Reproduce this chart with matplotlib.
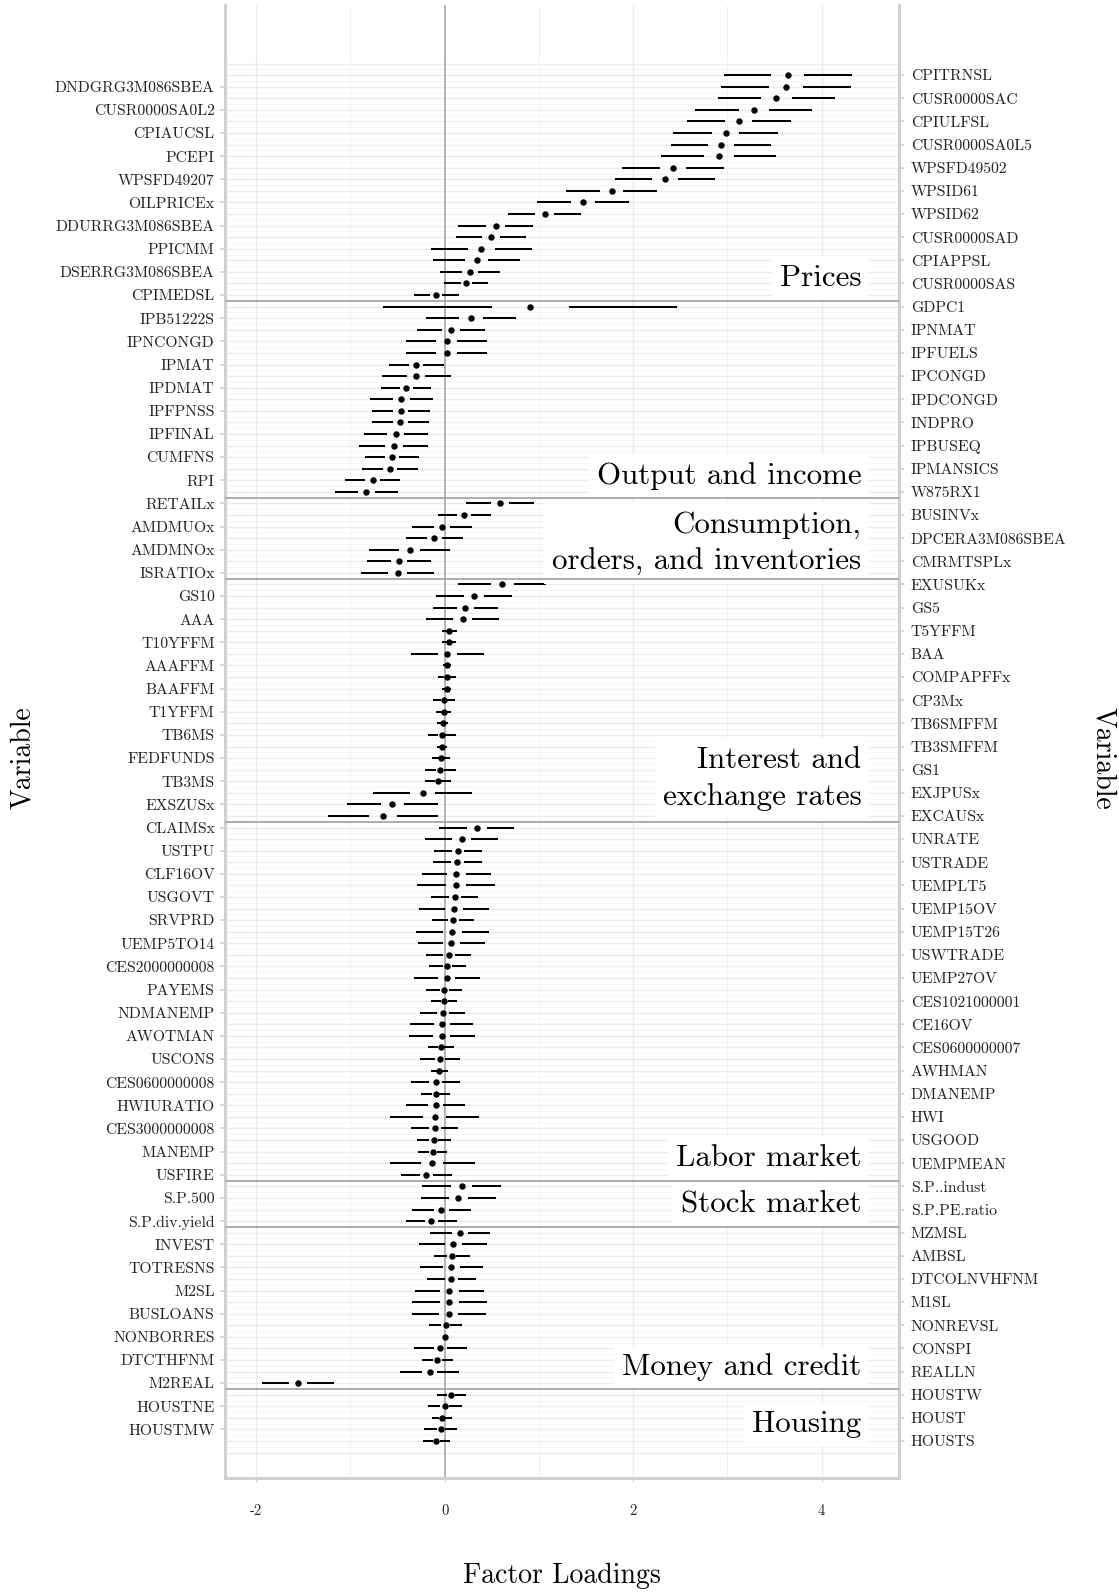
import numpy as np
import matplotlib
matplotlib.use('Agg')
import matplotlib.pyplot as plt

plt.rcParams['font.family'] = 'cmr10'
plt.rcParams['axes.unicode_minus'] = False
plt.rcParams['mathtext.fontset'] = 'cm'

# groups, top to bottom
groups = ['Prices', 'Output and income', 'Consumption,\norders, and inventories',
          'Interest and\nexchange rates', 'Labor market', 'Stock market',
          'Money and credit', 'Housing']
group_sizes = [20, 17, 7, 21, 31, 4, 14, 5]
group_label_rows = [18.55, 35.6, 41.45, 61.75, 94.55, 98.55, 112.65, 117.55]

variables = [
    # prices
    'CPITRNSL', 'DNDGRG3M086SBEA', 'CUSR0000SAC', 'CUSR0000SA0L2', 'CPIULFSL',
    'CPIAUCSL', 'CUSR0000SA0L5', 'PCEPI', 'WPSFD49502', 'WPSFD49207',
    'WPSID61', 'OILPRICEx', 'WPSID62', 'DDURRG3M086SBEA', 'CUSR0000SAD',
    'PPICMM', 'CPIAPPSL', 'DSERRG3M086SBEA', 'CUSR0000SAS', 'CPIMEDSL',
    # output and income
    'GDPC1', 'IPB51222S', 'IPNMAT', 'IPNCONGD', 'IPFUELS', 'IPMAT', 'IPCONGD',
    'IPDMAT', 'IPDCONGD', 'IPFPNSS', 'INDPRO', 'IPFINAL', 'IPBUSEQ', 'CUMFNS',
    'IPMANSICS', 'RPI', 'W875RX1',
    # consumption, orders, inventories
    'RETAILx', 'BUSINVx', 'AMDMUOx', 'DPCERA3M086SBEA', 'AMDMNOx', 'CMRMTSPLx',
    'ISRATIOx',
    # interest and exchange rates
    'EXUSUKx', 'GS10', 'GS5', 'AAA', 'T5YFFM', 'T10YFFM', 'BAA', 'AAAFFM',
    'COMPAPFFx', 'BAAFFM', 'CP3Mx', 'T1YFFM', 'TB6SMFFM', 'TB6MS', 'TB3SMFFM',
    'FEDFUNDS', 'GS1', 'TB3MS', 'EXJPUSx', 'EXSZUSx', 'EXCAUSx',
    # labor market
    'CLAIMSx', 'UNRATE', 'USTPU', 'USTRADE', 'CLF16OV', 'UEMPLT5', 'USGOVT',
    'UEMP15OV', 'SRVPRD', 'UEMP15T26', 'UEMP5TO14', 'USWTRADE', 'CES2000000008',
    'UEMP27OV', 'PAYEMS', 'CES1021000001', 'NDMANEMP', 'CE16OV', 'AWOTMAN',
    'CES0600000007', 'USCONS', 'AWHMAN', 'CES0600000008', 'DMANEMP',
    'HWIURATIO', 'HWI', 'CES3000000008', 'USGOOD', 'MANEMP', 'UEMPMEAN', 'USFIRE',
    # stock market
    'S.P..indust', 'S.P.500', 'S.P.PE.ratio', 'S.P.div.yield',
    # money and credit
    'MZMSL', 'INVEST', 'AMBSL', 'TOTRESNS', 'DTCOLNVHFNM', 'M2SL', 'M1SL',
    'BUSLOANS', 'NONREVSL', 'NONBORRES', 'CONSPI', 'DTCTHFNM', 'REALLN', 'M2REAL',
    # housing
    'HOUSTW', 'HOUSTNE', 'HOUST', 'HOUSTMW', 'HOUSTS',
]

loadings = [
    3.64, 3.62, 3.52, 3.28, 3.12, 2.98, 2.93, 2.91, 2.42, 2.34,
    1.77, 1.47, 1.06, 0.54, 0.49, 0.39, 0.34, 0.27, 0.23, -0.09,
    0.91, 0.28, 0.07, 0.02, 0.02, -0.30, -0.30, -0.41, -0.46, -0.465,
    -0.47, -0.52, -0.54, -0.56, -0.58, -0.765, -0.83,
    0.59, 0.21, -0.03, -0.11, -0.37, -0.485, -0.50,
    0.61, 0.31, 0.22, 0.19, 0.05, 0.045, 0.03, 0.025, 0.02, 0.02,
    -0.01, -0.01, -0.02, -0.03, -0.03, -0.035, -0.045, -0.07, -0.235, -0.555, -0.655,
    0.34, 0.18, 0.14, 0.135, 0.125, 0.12, 0.105, 0.10, 0.09, 0.083,
    0.072, 0.044, 0.03, 0.02, -0.005, -0.005, -0.02, -0.03, -0.03, -0.04,
    -0.05, -0.055, -0.095, -0.097, -0.097, -0.105, -0.105, -0.115, -0.125, -0.13, -0.196,
    0.18, 0.146, -0.034, -0.14,
    0.164, 0.093, 0.076, 0.072, 0.069, 0.051, 0.051, 0.044, 0.009, 0.002,
    -0.045, -0.076, -0.16, -1.557,
    0.069, 0.002, -0.03, -0.04, -0.087,
]

# half width of the interval around each loading
half_widths = [
    0.68, 0.69, 0.62, 0.62, 0.55, 0.56, 0.53, 0.61, 0.54, 0.53,
    0.48, 0.49, 0.39, 0.40, 0.37, 0.54, 0.46, 0.32, 0.235, 0.24,
    1.56, 0.475, 0.36, 0.43, 0.43, 0.29, 0.37, 0.265, 0.335, 0.305,
    0.30, 0.34, 0.365, 0.29, 0.30, 0.29, 0.33,
    0.36, 0.285, 0.315, 0.30, 0.43, 0.34, 0.39,
    0.465, 0.40, 0.345, 0.39, 0.08, 0.07, 0.39, 0.045, 0.095, 0.045,
    0.115, 0.08, 0.06, 0.145, 0.055, 0.095, 0.16, 0.14, 0.525, 0.48, 0.58,
    0.40, 0.385, 0.255, 0.26, 0.37, 0.41, 0.245, 0.375, 0.22, 0.385,
    0.36, 0.24, 0.195, 0.35, 0.19, 0.14, 0.24, 0.335, 0.35, 0.137,
    0.21, 0.095, 0.26, 0.155, 0.315, 0.47, 0.25, 0.18, 0.155, 0.45, 0.27,
    0.42, 0.40, 0.315, 0.27,
    0.316, 0.36, 0.19, 0.33, 0.26, 0.37, 0.40, 0.395, 0.18, 0.02,
    0.28, 0.167, 0.315, 0.38,
    0.155, 0.18, 0.106, 0.175, 0.145,
]

GAP = 0.26  # blank part of the interval around the dot, share of half width
XLIM = (-2.33, 4.82)
YLIM = (122.2, -5.05)
AXIS_GREY = '#D0D0D0'

est = np.array(loadings)
hw = np.array(half_widths)
rows = np.arange(1, len(variables) + 1)

fig = plt.figure(figsize=(11.19, 15.96), dpi=100)
ax = fig.add_axes([0.2011, 0.0739, 0.6023, 0.9229])
ax.set_xlim(*XLIM)
ax.set_ylim(*YLIM)

# grid
ax.hlines(np.arange(0, len(variables) + 2), *XLIM, color='#EBEBEB', lw=1.0, zorder=0)
ax.hlines(np.arange(0.5, len(variables) + 1), *XLIM, color='#F3F3F3', lw=0.5, zorder=0)
ax.vlines([-2, 2, 4], *YLIM, color='#EBEBEB', lw=1.0, zorder=0)
ax.vlines([-1, 1, 3], *YLIM, color='#F0F0F0', lw=0.7, zorder=0)
ax.axvline(0, color='#A8A8A8', lw=1.2, zorder=1)

# intervals with a gap around the point
ax.hlines(rows, est - hw, est - GAP * hw, color='black', lw=1.45, zorder=3)
ax.hlines(rows, est + GAP * hw, est + hw, color='black', lw=1.45, zorder=3)
ax.plot(est, rows, 'o', color='black', ms=3.6, zorder=4)

# group separators and labels
for b in np.cumsum(group_sizes)[:-1] + 0.5:
    ax.axhline(b, color='#A6A6A6', lw=1.3, zorder=6)
for name, y in zip(groups, group_label_rows):
    ax.text(4.42, y, name, ha='right', va='center', fontsize=22.3, linespacing=1.41,
            zorder=5, bbox=dict(facecolor='white', edgecolor='none',
                                boxstyle='square,pad=0.25'))

# axes
for side in ['left', 'right', 'bottom']:
    ax.spines[side].set_color(AXIS_GREY)
    ax.spines[side].set_linewidth(2.2)
ax.spines['top'].set_visible(False)

ax.set_xticks([-2, 0, 2, 4])
ax.set_xticklabels(['-2', '0', '2', '4'])
ax.tick_params(axis='x', length=3, color=AXIS_GREY, pad=16, labelsize=10.5,
               labelcolor='#222222')
ax.set_yticks(rows[1::2])
ax.set_yticklabels(variables[1::2])
ax.tick_params(axis='y', length=3.5, width=1.2, color=AXIS_GREY, pad=4,
               labelsize=11.3, labelcolor='#222222')

ax2 = ax.twinx()
ax2.set_ylim(*YLIM)
ax2.set_yticks(rows[0::2])
ax2.set_yticklabels(variables[0::2])
ax2.tick_params(axis='y', length=3.5, width=1.2, color=AXIS_GREY, pad=5,
                labelsize=11.3, labelcolor='#222222')
for s in ax2.spines.values():
    s.set_visible(False)

fig.text(0.502, 0.0125, 'Factor Loadings', ha='center', va='center', fontsize=20)
fig.text(0.020, 0.525, 'Variable', ha='center', va='center', rotation=90, fontsize=20)
fig.text(0.9857, 0.525, 'Variable', ha='center', va='center', rotation=270, fontsize=20)

fig.savefig('out.png', dpi=100)
